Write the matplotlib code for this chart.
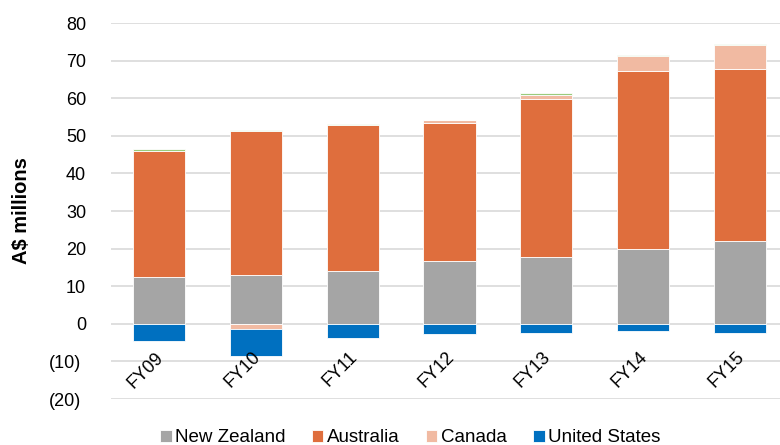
import numpy as np
import matplotlib.pyplot as plt
import matplotlib.transforms as mtransforms

plt.rcParams['font.family'] = ['Liberation Sans', 'DejaVu Sans']

years = ['FY09', 'FY10', 'FY11', 'FY12', 'FY13', 'FY14', 'FY15']
new_zealand = [12.5, 13.1, 14.1, 16.8, 17.8, 20.0, 22.1]
australia = [33.5, 38.2, 38.8, 36.7, 42.0, 47.3, 45.7]
canada = [0.0, -1.4, 0.0, 0.6, 1.1, 3.8, 6.4]
other = [0.4, 0.2, 0.2, 0.2, 0.5, 0.4, 0.3]
united_states = [-4.5, -7.1, -3.8, -2.7, -2.4, -2.0, -2.5]

y_ticks = [80, 70, 60, 50, 40, 30, 20, 10, 0, -10, -20]


def fmt(v):
    return f"({abs(v)})" if v < 0 else str(v)


fig = plt.figure(figsize=(7.8, 4.45), dpi=100)
ax = fig.add_axes([111 / 780, 46 / 445, 677 / 780, 376 / 445])

x = np.arange(len(years))
w = 0.54
series = [
    (new_zealand, '#A5A5A5', 'New Zealand'),
    (australia, '#DF6E3D', 'Australia'),
    (canada, '#F1BAA2', 'Canada'),
    (united_states, '#0070C0', 'United States'),
    (other, '#9BCB7C', None),
]

# stack positives upward and negatives downward from zero
pos = np.zeros(len(years))
neg = np.zeros(len(years))
for vals, color, label in series:
    v = np.array(vals)
    bottom = np.where(v >= 0, pos, neg)
    ax.bar(x, v, w, bottom=bottom, color=color, edgecolor='white',
           linewidth=0.6, label=label, zorder=3)
    pos = pos + np.where(v > 0, v, 0)
    neg = neg + np.where(v < 0, v, 0)

ax.set_xlim(-0.5, len(years) - 0.5)
ax.set_ylim(-20, 80)
ax.set_yticks(y_ticks)
ax.set_yticklabels([fmt(t) for t in y_ticks], fontsize=13)
ax.grid(axis='y', color='#D9D9D9', linewidth=1.2, zorder=0)
for s in ax.spines.values():
    s.set_visible(False)
ax.tick_params(axis='y', length=0, pad=18)
ax.tick_params(axis='x', length=0)
# negative labels sit a little further left
shift = mtransforms.ScaledTranslation(-5 / 100, 0, fig.dpi_scale_trans)
for t, lab in zip(y_ticks, ax.get_yticklabels()):
    if t < 0:
        lab.set_transform(lab.get_transform() + shift)

ax.set_xticks(x)
ax.set_xticklabels([])
for xi, lab in zip(x, years):
    ax.annotate(lab, (xi, 0), xytext=(-3, -18), textcoords='offset points',
                rotation=45, rotation_mode='anchor', ha='right', va='top',
                fontsize=13)

ax.set_ylabel('A$ millions', fontsize=14.5, fontweight='bold')
ax.yaxis.set_label_coords(-0.118, 0.5)

handles, labels = ax.get_legend_handles_labels()
keep = [i for i, l in enumerate(labels) if not l.startswith('_')]
fig.legend([handles[i] for i in keep], [labels[i] for i in keep],
           loc='center', bbox_to_anchor=(0.5263, 0.0164), ncol=4,
           frameon=False, fontsize=13.5, handlelength=0.6, handleheight=0.6,
           handletextpad=0.2, columnspacing=1.4, borderpad=0)

fig.savefig('out.png', dpi=100)
